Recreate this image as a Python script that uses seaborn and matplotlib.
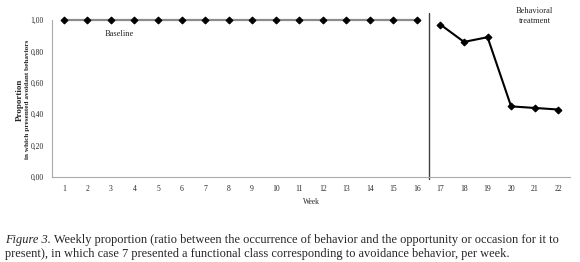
"""
Weekly proportion of avoidant behaviors, baseline vs behavioral treatment
"""
import pandas as pd
import numpy as np
import matplotlib
matplotlib.use('Agg')
import matplotlib.pyplot as plt
import seaborn as sns

# data
baseline_weeks = list(range(1, 17))
baseline_values = [1.00] * 16
treatment_weeks = [17, 18, 19, 20, 21, 22]
treatment_values = [0.97, 0.86, 0.89, 0.45, 0.44, 0.43]
y_ticks = [0.0, 0.2, 0.4, 0.6, 0.8, 1.0]
y_tick_labels = ['0,00', '0,20', '0,40', '0,60', '0,80', '1,00']

df_base = pd.DataFrame({'week': baseline_weeks, 'prop': baseline_values})
df_treat = pd.DataFrame({'week': treatment_weeks, 'prop': treatment_values})

sns.set_style('white')
plt.rcParams['font.family'] = ['Liberation Serif', 'DejaVu Serif']

fig = plt.figure(figsize=(5.8, 2.62), dpi=100)
ax = fig.add_axes([0.0897, 0.324, 0.893, 0.600])

sns.lineplot(data=df_base, x='week', y='prop', ax=ax, color='#8c8c8c',
             linewidth=1.6, marker='D', markersize=3.5, markerfacecolor='black',
             markeredgecolor='black', clip_on=False)
sns.lineplot(data=df_treat, x='week', y='prop', ax=ax, color='black',
             linewidth=1.5, marker='D', markersize=3.5, markerfacecolor='black',
             markeredgecolor='black', clip_on=False)

# phase change line
ax.plot([16.5, 16.5], [-0.01, 1.045], color='#404040', linewidth=1.0, clip_on=False)

ax.set_xlim(0.5, 22.5)
ax.set_ylim(0, 1.0)

ax.set_xticks(np.arange(1, 23))
ax.set_xticklabels([str(w) for w in range(1, 23)], fontsize=5.5)
ax.set_xticks(np.arange(0.5, 23, 1), minor=True)
ax.tick_params(axis='x', which='major', length=0, pad=6)
ax.tick_params(axis='x', which='minor', length=3, width=0.6, color='#999999', direction='out')
ax.set_yticks(y_ticks)
ax.set_yticklabels(y_tick_labels, fontsize=5.5)
ax.tick_params(axis='y', length=3, width=0.6, color='#999999', direction='out', pad=3)

for side in ['top', 'right']:
    ax.spines[side].set_visible(False)
for side in ['left', 'bottom']:
    ax.spines[side].set_color('#aaaaaa')
    ax.spines[side].set_linewidth(0.8)

ax.set_xlabel('Week', fontsize=5.5, labelpad=3)
ax.set_ylabel('')
fig.text(0.034, 0.62, 'Proportion', rotation=90, ha='center', va='center',
         fontsize=6.5, fontweight='bold')
fig.text(0.048, 0.62, 'in which presented avoidant behaviors', rotation=90,
         ha='center', va='center', fontsize=5.2, fontweight='bold')

ax.text(3.35, 0.91, 'Baseline', fontsize=6, ha='center', va='center')
ax.text(21.0, 1.025, 'Behavioral\ntreatment', fontsize=6, ha='center', va='center',
        linespacing=1.2)

# caption: italic lead followed by plain text
cap_size = 8.9
lead = fig.text(0.009, 0.074, 'Figure 3.', fontsize=cap_size, style='italic', va='baseline')
fig.canvas.draw()
bb = lead.get_window_extent().transformed(fig.transFigure.inverted())
fig.text(bb.x1, 0.074, ' Weekly proportion (ratio between the occurrence of behavior and the opportunity or occasion for it to',
         fontsize=cap_size, va='baseline')
fig.text(0.009, 0.02, 'present), in which case 7 presented a functional class corresponding to avoidance behavior, per week.',
         fontsize=cap_size, va='baseline')

fig.savefig('out.png', dpi=100)
